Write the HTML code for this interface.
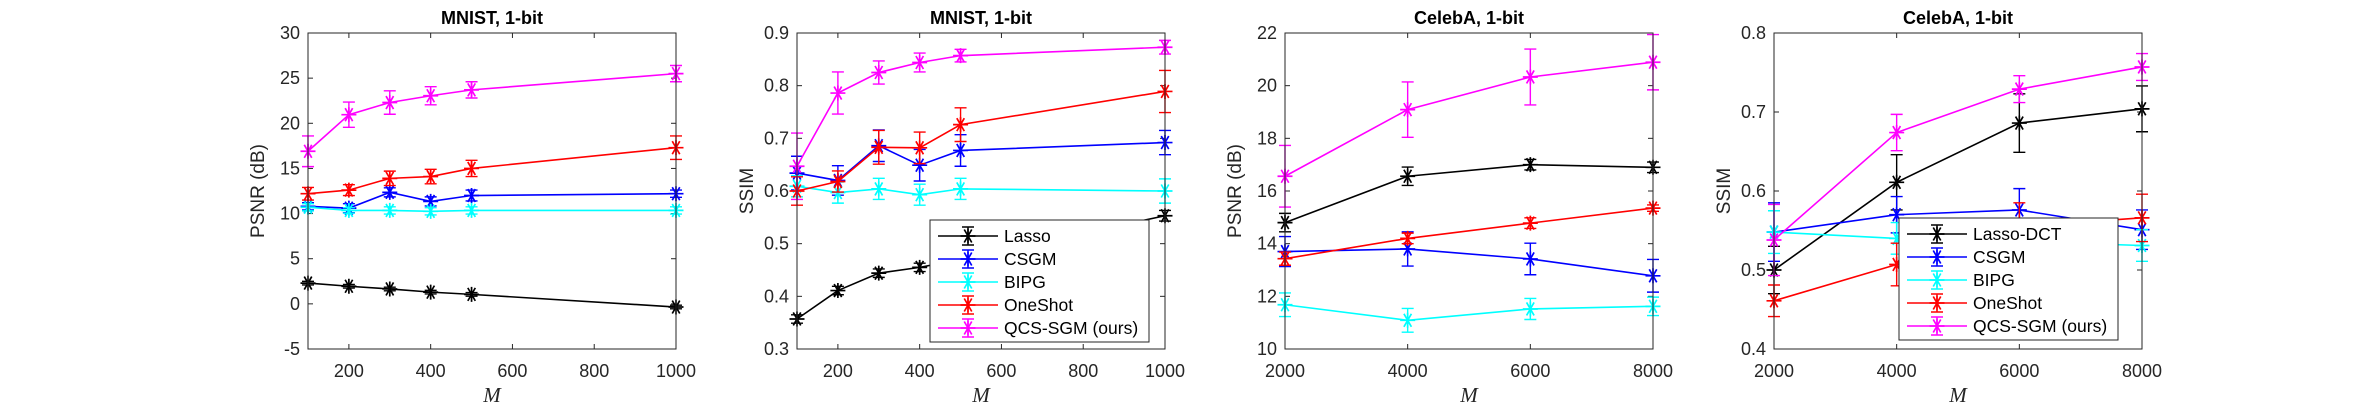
<!DOCTYPE html>
<html><head><meta charset="utf-8">
<style>
html,body{margin:0;padding:0;background:#fff;}
svg{display:block;font-family:"Liberation Sans",sans-serif;}
</style></head>
<body>
<svg id="fig" width="2370" height="410" viewBox="0 0 2370 410" xmlns="http://www.w3.org/2000/svg"></svg>
<script>
// ---- Data ----
const mnistM = [100, 200, 300, 400, 500, 1000];
const celebM = [2000, 4000, 6000, 8000];
const seriesNames1 = ["Lasso", "CSGM", "BIPG", "OneShot", "QCS-SGM (ours)"];
const seriesNames2 = ["Lasso-DCT", "CSGM", "BIPG", "OneShot", "QCS-SGM (ours)"];
const seriesColors = ["#000000", "#0000ff", "#00ffff", "#ff0000", "#ff00ff"];

// Panel 1: MNIST PSNR
const p1Lasso = [2.3, 1.95, 1.65, 1.3, 1.05, -0.35];
const p1Csgm = [10.8, 10.6, 12.35, 11.35, 12.0, 12.2];
const p1Bipg = [10.7, 10.35, 10.35, 10.25, 10.35, 10.35];
const p1One = [12.2, 12.6, 13.9, 14.1, 15.0, 17.3];
const p1Qcs = [16.9, 20.95, 22.3, 23.05, 23.7, 25.5];
const p1LassoErr = [0.2, 0.2, 0.2, 0.2, 0.2, 0.2];
const p1CsgmErr = [0.4, 0.5, 0.5, 0.5, 0.6, 0.4];
const p1BipgErr = [0.4, 0.3, 0.4, 0.4, 0.4, 0.4];
const p1OneErr = [0.7, 0.6, 0.8, 0.8, 0.9, 1.3];
const p1QcsErr = [1.7, 1.4, 1.3, 1.0, 0.9, 0.9];
const p1YTicks = [-5, 0, 5, 10, 15, 20, 25, 30];

// Panel 2: MNIST SSIM
const p2Lasso = [0.357, 0.411, 0.444, 0.455, 0.47, 0.553];
const p2Csgm = [0.634, 0.62, 0.686, 0.649, 0.677, 0.692];
const p2Bipg = [0.609, 0.597, 0.604, 0.593, 0.604, 0.600];
const p2One = [0.600, 0.618, 0.683, 0.682, 0.726, 0.789];
const p2Qcs = [0.647, 0.786, 0.825, 0.844, 0.857, 0.873];
const p2LassoErr = [0.008, 0.008, 0.008, 0.008, 0.008, 0.01];
const p2CsgmErr = [0.032, 0.028, 0.03, 0.03, 0.03, 0.023];
const p2BipgErr = [0.02, 0.02, 0.02, 0.02, 0.02, 0.023];
const p2OneErr = [0.027, 0.02, 0.032, 0.03, 0.032, 0.04];
const p2QcsErr = [0.063, 0.04, 0.022, 0.018, 0.012, 0.013];
const p2YTicks = [0.3, 0.4, 0.5, 0.6, 0.7, 0.8, 0.9];

// Panel 3: CelebA PSNR
const p3Lasso = [14.8, 16.56, 17.0, 16.9];
const p3Csgm = [13.7, 13.8, 13.42, 12.78];
const p3Bipg = [11.68, 11.09, 11.52, 11.62];
const p3One = [13.43, 14.2, 14.78, 15.35];
const p3Qcs = [16.56, 19.09, 20.33, 20.89];
const p3LassoErr = [0.35, 0.35, 0.2, 0.2];
const p3CsgmErr = [0.57, 0.65, 0.6, 0.62];
const p3BipgErr = [0.45, 0.45, 0.4, 0.35];
const p3OneErr = [0.25, 0.2, 0.2, 0.12];
const p3QcsErr = [1.17, 1.05, 1.06, 1.05];
const p3YTicks = [10, 12, 14, 16, 18, 20, 22];

// Panel 4: CelebA SSIM
const p4Lasso = [0.50, 0.611, 0.686, 0.704];
const p4Csgm = [0.548, 0.570, 0.576, 0.551];
const p4Bipg = [0.548, 0.540, 0.536, 0.531];
const p4One = [0.461, 0.507, 0.555, 0.566];
const p4Qcs = [0.538, 0.674, 0.729, 0.757];
const p4LassoErr = [0.03, 0.035, 0.037, 0.029];
const p4CsgmErr = [0.037, 0.023, 0.027, 0.025];
const p4BipgErr = [0.027, 0.02, 0.02, 0.02];
const p4OneErr = [0.02, 0.027, 0.03, 0.03];
const p4QcsErr = [0.045, 0.023, 0.017, 0.017];
const p4YTicks = [0.4, 0.5, 0.6, 0.7, 0.8];

const mnistXTicks = [200, 400, 600, 800, 1000];
const celebXTicks = [2000, 4000, 6000, 8000];

const NS = "http://www.w3.org/2000/svg";
const svg = document.getElementById("fig");
function mk(tag, attrs, parent) {
  const e = document.createElementNS(NS, tag);
  for (const k in attrs) e.setAttribute(k, attrs[k]);
  (parent || svg).appendChild(e);
  return e;
}
function star(g, cx, cy, r, color) {
  let d = "M" + (cx - r) + " " + cy + "H" + (cx + r);
  for (const a of [60, 120]) {
    const dx = r * Math.cos(a * Math.PI / 180), dy = r * Math.sin(a * Math.PI / 180);
    d += "M" + (cx - dx) + " " + (cy - dy) + "L" + (cx + dx) + " " + (cy + dy);
  }
  d += "M" + cx + " " + (cy - r) + "V" + (cy + r);
  const p = mk("path", {d: d, stroke: color, "stroke-width": 1.7, fill: "none"}, g);
  return p;
}

const TOP = 33, BOT = 349, W = 368;
function panel(cfg) {
  const g = mk("g", {});
  
  
  const L = cfg.left, R = cfg.left + W;
  const sx = v => L + (v - cfg.xmin) / (cfg.xmax - cfg.xmin) * W;
  const sy = v => BOT - (v - cfg.ymin) / (cfg.ymax - cfg.ymin) * (BOT - TOP);
  const t = mk("text", {x: (L + R) / 2, y: 24, "text-anchor": "middle", "font-size": 18, "font-weight": "bold", fill: "#000"}, g);
  t.textContent = cfg.title;
  
  
  for (const v of cfg.yTicks) {
    const y = sy(v);
    mk("line", {x1: L, x2: L + 5, y1: y, y2: y, stroke: "#262626", "stroke-width": 1}, g);
    mk("line", {x1: R, x2: R - 5, y1: y, y2: y, stroke: "#262626", "stroke-width": 1}, g);
    const tl = mk("text", {x: L - 8, y: y + 6, "text-anchor": "end", "font-size": 18, fill: "#262626"}, g);
    tl.textContent = String(v);
    
    
  }
  for (const v of cfg.xTicks) {
    const x = sx(v);
    mk("line", {x1: x, x2: x, y1: BOT, y2: BOT - 5, stroke: "#262626", "stroke-width": 1}, g);
    mk("line", {x1: x, x2: x, y1: TOP, y2: TOP + 5, stroke: "#262626", "stroke-width": 1}, g);
    const tl = mk("text", {x: x, y: 377, "text-anchor": "middle", "font-size": 18, fill: "#262626"}, g);
    tl.textContent = String(v);
    
    
  }
  const yl = mk("text", {x: 0, y: 0, transform: "translate(" + (L - 44) + "," + ((TOP + BOT) / 2) + ") rotate(-90)", "text-anchor": "middle", "font-size": 19, fill: "#262626"}, g);
  yl.textContent = cfg.ylabel;
  
  
  const xl = mk("text", {x: (L + R) / 2, y: 402, "text-anchor": "middle", "font-size": 21, "font-style": "italic", "font-family": "Liberation Serif, serif", fill: "#262626"}, g);
  xl.textContent = "M";
  
  
  cfg.series.forEach((s, i) => {
    const sg = mk("g", {}, g);
    
    
    const col = seriesColors[i];
    const pts = s.map((v, j) => sx(cfg.x[j]) + "," + sy(v)).join(" ");
    mk("polyline", {points: pts, fill: "none", stroke: col, "stroke-width": 1.6}, sg);
    s.forEach((v, j) => {
      const x = sx(cfg.x[j]), e = cfg.errs[i][j];
      const y1 = sy(v + e), y2 = sy(v - e);
      const eb = mk("path", {d: "M" + x + " " + y1 + "V" + y2 + "M" + (x - 6) + " " + y1 + "H" + (x + 6) + "M" + (x - 6) + " " + y2 + "H" + (x + 6), stroke: col, "stroke-width": 1.4, fill: "none"}, sg);
      
      
      const m = star(sg, x, sy(v), 7.5, col);
      
      
    });
  });
  mk("rect", {x: L, y: TOP, width: W, height: BOT - TOP, fill: "none", stroke: "#262626", "stroke-width": 1}, g);
  if (cfg.legend) {
    const lg = mk("g", {}, g);
    
    
    const [lx, ly] = cfg.legend;
    mk("rect", {x: lx, y: ly, width: 219, height: 122, fill: "#fff", stroke: "#262626", "stroke-width": 1}, lg);
    cfg.names.forEach((n, i) => {
      const y = ly + 16 + i * 23, col = seriesColors[i];
      const eg = mk("g", {}, lg);
      
      
      mk("line", {x1: lx + 8, x2: lx + 68, y1: y, y2: y, stroke: col, "stroke-width": 1.6}, eg);
      mk("path", {d: "M" + (lx + 38) + " " + (y - 9) + "V" + (y + 9) + "M" + (lx + 32) + " " + (y - 9) + "H" + (lx + 44) + "M" + (lx + 32) + " " + (y + 9) + "H" + (lx + 44), stroke: col, "stroke-width": 1.4}, eg);
      star(eg, lx + 38, y, 7.5, col);
      const tx = mk("text", {x: lx + 74, y: y + 6, "font-size": 17.5, fill: "#000"}, eg);
      tx.textContent = n;
    });
  }
}

panel({name: "mnist-psnr-chart", title: "MNIST, 1-bit", left: 308, xmin: 100, xmax: 1000, ymin: -5, ymax: 30,
  x: mnistM, xTicks: mnistXTicks, yTicks: p1YTicks, ylabel: "PSNR (dB)", names: seriesNames1,
  series: [p1Lasso, p1Csgm, p1Bipg, p1One, p1Qcs], errs: [p1LassoErr, p1CsgmErr, p1BipgErr, p1OneErr, p1QcsErr]});
panel({name: "mnist-ssim-chart", title: "MNIST, 1-bit", left: 797, xmin: 100, xmax: 1000, ymin: 0.3, ymax: 0.9,
  x: mnistM, xTicks: mnistXTicks, yTicks: p2YTicks, ylabel: "SSIM", names: seriesNames1, legend: [930, 220],
  series: [p2Lasso, p2Csgm, p2Bipg, p2One, p2Qcs], errs: [p2LassoErr, p2CsgmErr, p2BipgErr, p2OneErr, p2QcsErr]});
panel({name: "celeba-psnr-chart", title: "CelebA, 1-bit", left: 1285, xmin: 2000, xmax: 8000, ymin: 10, ymax: 22,
  x: celebM, xTicks: celebXTicks, yTicks: p3YTicks, ylabel: "PSNR (dB)", names: seriesNames2,
  series: [p3Lasso, p3Csgm, p3Bipg, p3One, p3Qcs], errs: [p3LassoErr, p3CsgmErr, p3BipgErr, p3OneErr, p3QcsErr]});
panel({name: "celeba-ssim-chart", title: "CelebA, 1-bit", left: 1774, xmin: 2000, xmax: 8000, ymin: 0.4, ymax: 0.8,
  x: celebM, xTicks: celebXTicks, yTicks: p4YTicks, ylabel: "SSIM", names: seriesNames2, legend: [1899, 218],
  series: [p4Lasso, p4Csgm, p4Bipg, p4One, p4Qcs], errs: [p4LassoErr, p4CsgmErr, p4BipgErr, p4OneErr, p4QcsErr]});
</script>
</body></html>
